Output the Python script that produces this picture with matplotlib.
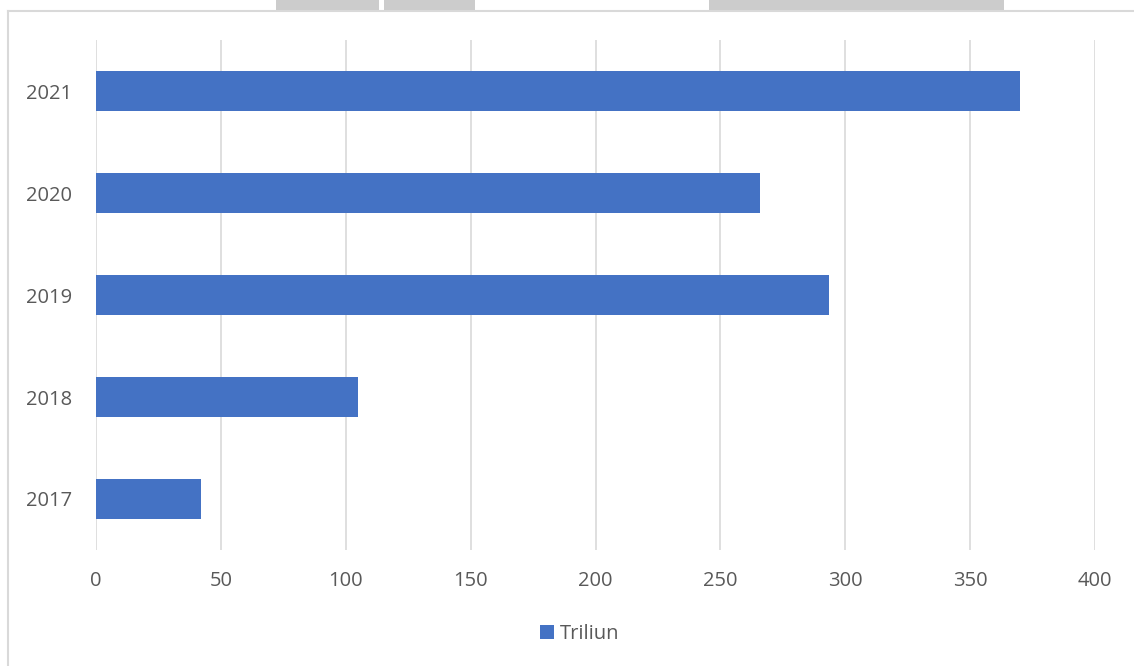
import matplotlib
matplotlib.use("Agg")
import matplotlib.pyplot as plt
from matplotlib.patches import Rectangle
from matplotlib.lines import Line2D

years = ["2017", "2018", "2019", "2020", "2021"]
values = [42, 105, 293.5, 266, 370]
series_name = "Triliun"
xticks = [0, 50, 100, 150, 200, 250, 300, 350, 400]

W, H = 1134, 666
fig = plt.figure(figsize=(W / 100, H / 100), dpi=100)
plt.rcParams['font.family'] = ['Open Sans', 'DejaVu Sans']

# outer frame and decorative top boxes
fig.add_artist(Line2D([8 / W, 8 / W], [0, 1 - 11 / H], transform=fig.transFigure, color="#d9d9d9", lw=1.5))
fig.add_artist(Line2D([8 / W, 1], [1 - 11 / H, 1 - 11 / H], transform=fig.transFigure, color="#d9d9d9", lw=1.5))
for x0, x1 in [(276, 379), (384, 475), (709, 1004)]:
    fig.add_artist(Rectangle((x0 / W, 1 - 11 / H), (x1 - x0) / W, 11 / H,
                             transform=fig.transFigure, facecolor="#cccccc", edgecolor="none"))

ax = fig.add_axes([96 / W, 1 - 550 / H, (1095 - 96) / W, (550 - 40) / H])
ypos = list(range(len(years)))
bars = ax.barh(ypos, values, height=0.39, color="#4472C4", label=series_name, zorder=3)
ax.set_xlim(0, 400)
ax.set_ylim(-0.5, len(years) - 0.5)
ax.set_xticks(xticks)
ax.set_xticklabels([str(t) for t in xticks])
ax.set_yticks(ypos)
ax.set_yticklabels(years)
ax.grid(axis="x", color="#d9d9d9", lw=1.2, zorder=0)
for s in ax.spines.values():
    s.set_visible(False)
ax.tick_params(length=0, labelsize=14.5, colors="#595959")
ax.tick_params(axis="x", pad=15)
ax.tick_params(axis="y", pad=17)

leg = fig.legend(handles=[bars], labels=[series_name], loc="center",
                 bbox_to_anchor=(580 / W, 1 - 634 / H), frameon=False,
                 fontsize=14.5, handlelength=0.7, handleheight=0.7, handletextpad=0.3,
                 labelcolor="#595959")

fig.savefig("out.png", dpi=100, facecolor="white")
